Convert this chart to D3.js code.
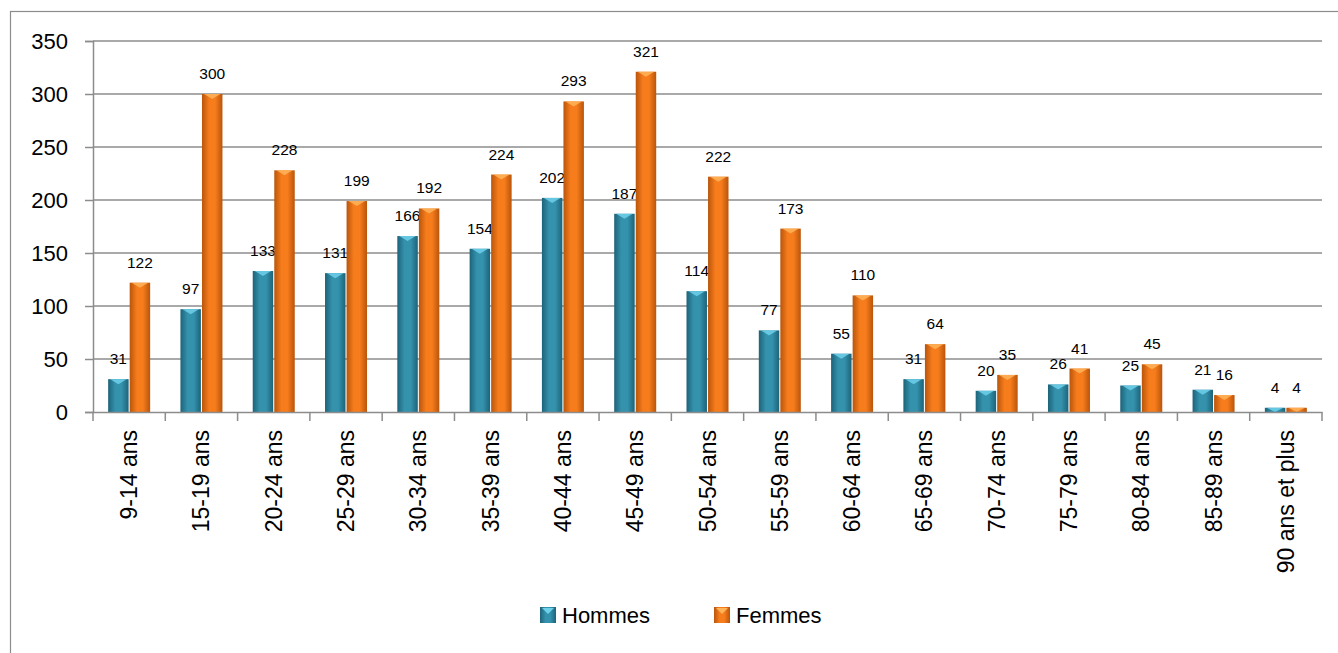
<!DOCTYPE html>
<html>
<head>
<meta charset="utf-8">
<script src="https://d3js.org/d3.v7.min.js"></script>
<style>
  body { margin: 0; background: #fff; }
  svg { display: block; font-family: "Liberation Sans", Arial, sans-serif; }
</style>
</head>
<body>
<div id="chart"></div>
<script>
// data
const categories = ["9-14 ans", "15-19 ans", "20-24 ans", "25-29 ans", "30-34 ans", "35-39 ans",
  "40-44 ans", "45-49 ans", "50-54 ans", "55-59 ans", "60-64 ans", "65-69 ans", "70-74 ans",
  "75-79 ans", "80-84 ans", "85-89 ans", "90 ans et plus"];
const hommes = [31, 97, 133, 131, 166, 154, 202, 187, 114, 77, 55, 31, 20, 26, 25, 21, 4];
const femmes = [122, 300, 228, 199, 192, 224, 293, 321, 222, 173, 110, 64, 35, 41, 45, 16, 4];
const yTicks = [0, 50, 100, 150, 200, 250, 300, 350];

const series = [
  { name: "Hommes", values: hommes, dark: "#1d6379", mid: "#3492ad", cap: "#6fd0ea" },
  { name: "Femmes", values: femmes, dark: "#b9550b", mid: "#f67c1c", cap: "#ffb45a" }
];

const width = 1338, height = 653;
const margin = { left: 93, right: 16, top: 41, bottom: 241 };

const svg = d3.select("#chart").append("svg")
  .attr("width", width)
  .attr("height", height);

// outer frame (continues past right / bottom edge)
svg.append("rect")
  .attr("x", 10.5).attr("y", 11.5)
  .attr("width", 1400).attr("height", 700)
  .attr("fill", "none")
  .attr("stroke", "#8c8c8c")
  .attr("stroke-width", 1.2);

const defs = svg.append("defs");
series.forEach((s, i) => {
  const g = defs.append("linearGradient").attr("id", "grad" + i)
    .attr("x1", "0%").attr("x2", "100%").attr("y1", "0%").attr("y2", "0%");
  g.append("stop").attr("offset", "0%").attr("stop-color", s.dark);
  g.append("stop").attr("offset", "35%").attr("stop-color", s.mid);
  g.append("stop").attr("offset", "65%").attr("stop-color", s.mid);
  g.append("stop").attr("offset", "100%").attr("stop-color", s.dark);
});

const x = d3.scaleBand()
  .domain(categories)
  .range([margin.left, width - margin.right])
  .padding(0);

const inner = d3.scaleBand()
  .domain(series.map(s => s.name))
  .range([x.bandwidth() / 2 - 21, x.bandwidth() / 2 + 21])
  .paddingInner(0.05);

const y = d3.scaleLinear()
  .domain([0, 350])
  .range([height - margin.bottom, margin.top]);

// gridlines
svg.append("g")
  .selectAll("line")
  .data(yTicks.filter(d => d > 0))
  .join("line")
  .attr("x1", margin.left).attr("x2", width - margin.right)
  .attr("y1", d => y(d)).attr("y2", d => y(d))
  .attr("stroke", "#8c8c8c")
  .attr("stroke-width", 1.5);

// y axis
const yAxis = svg.append("g")
  .attr("transform", `translate(${margin.left},0)`)
  .call(d3.axisLeft(y).tickValues(yTicks).tickSize(8).tickPadding(17));
yAxis.select(".domain").attr("stroke", "#8c8c8c").attr("stroke-width", 1.5);
yAxis.selectAll(".tick line").attr("stroke", "#8c8c8c").attr("stroke-width", 1.5);
yAxis.selectAll(".tick text")
  .attr("font-size", 22)
  .attr("fill", "#000")
  .attr("font-family", "Liberation Sans, Arial, sans-serif");

// bars
series.forEach((s, i) => {
  const g = svg.append("g");
  const bw = inner.bandwidth();
  g.selectAll("rect")
    .data(s.values)
    .join("rect")
    .attr("x", (d, j) => x(categories[j]) + inner(s.name))
    .attr("y", d => y(d))
    .attr("width", bw)
    .attr("height", d => y(0) - y(d))
    .attr("fill", `url(#grad${i})`);

  // light bevel on top
  g.selectAll("polygon")
    .data(s.values)
    .join("polygon")
    .attr("points", (d, j) => {
      const x0 = x(categories[j]) + inner(s.name);
      const y0 = y(d);
      const h = Math.min(5, y(0) - y(d));
      return `${x0 + 2},${y0} ${x0 + bw - 2},${y0} ${x0 + bw / 2},${y0 + h}`;
    })
    .attr("fill", s.cap)
    .attr("opacity", 0.85);

  // value labels
  svg.append("g")
    .selectAll("text")
    .data(s.values)
    .join("text")
    .attr("x", (d, j) => x(categories[j]) + inner(s.name) + bw / 2)
    .attr("y", d => y(d) - 15)
    .attr("text-anchor", "middle")
    .attr("font-size", 15.5)
    .attr("fill", "#000")
    .text(d => d);
});

// x axis
const xAxis = svg.append("g")
  .attr("transform", `translate(0,${y(0)})`)
  .call(d3.axisBottom(x).tickSize(0).tickFormat(""));
xAxis.select(".domain").attr("stroke", "#8c8c8c").attr("stroke-width", 1.5);

svg.append("g")
  .selectAll("line")
  .data(categories.concat(["end"]))
  .join("line")
  .attr("x1", (d, j) => margin.left + j * x.step())
  .attr("x2", (d, j) => margin.left + j * x.step())
  .attr("y1", y(0)).attr("y2", y(0) + 9)
  .attr("stroke", "#8c8c8c")
  .attr("stroke-width", 1.5);

svg.append("g")
  .selectAll("text")
  .data(categories)
  .join("text")
  .attr("transform", d => `translate(${x(d) + x.bandwidth() / 2 + 8},${y(0) + 18}) rotate(-90)`)
  .attr("text-anchor", "end")
  .attr("font-size", 23)
  .attr("fill", "#000")
  .text(d => d);

// legend
const legendX = [540, 714];
const legend = svg.append("g");
series.forEach((s, i) => {
  const lg = legend.append("g").attr("transform", `translate(${legendX[i]},607)`);
  lg.append("rect")
    .attr("width", 16).attr("height", 16)
    .attr("fill", `url(#grad${i})`);
  lg.append("polygon")
    .attr("points", "2,1 14,1 8,7")
    .attr("fill", s.cap);
  lg.append("text")
    .attr("x", 22).attr("y", 16)
    .attr("font-size", 22)
    .attr("fill", "#000")
    .text(s.name);
});
</script>
</body>
</html>
